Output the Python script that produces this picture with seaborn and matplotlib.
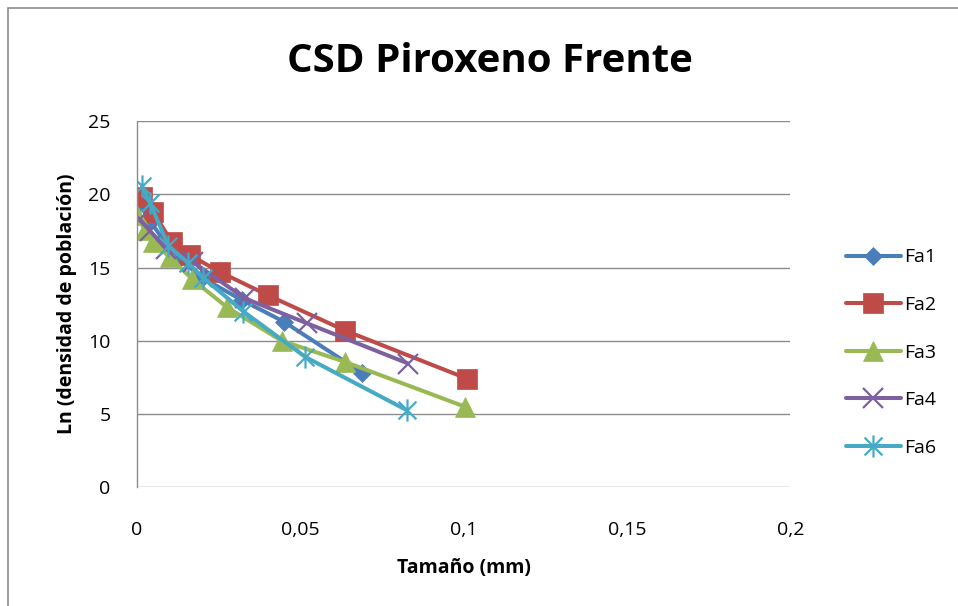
import numpy as np
import pandas as pd
import matplotlib
matplotlib.use("Agg")
import matplotlib.pyplot as plt
from matplotlib.path import Path
from matplotlib.patches import Rectangle
import seaborn as sns

series_names = ["Fa1", "Fa2", "Fa3", "Fa4", "Fa6"]
fa1_x = [0.0008, 0.004, 0.008, 0.013, 0.020, 0.032, 0.045, 0.069]
fa1_y = [19.5, 18.2, 16.9, 15.6, 14.3, 12.8, 11.3, 7.8]
fa2_x = [0.0015, 0.005, 0.0106, 0.0162, 0.0254, 0.0402, 0.0637, 0.101]
fa2_y = [19.8, 18.8, 16.75, 15.85, 14.7, 13.1, 10.7, 7.42]
fa3_x = [0.0, 0.0024, 0.005, 0.0101, 0.0167, 0.0275, 0.0443, 0.0637, 0.1005]
fa3_y = [18.6, 17.55, 16.75, 15.7, 14.25, 12.3, 10.0, 8.56, 5.49]
fa4_x = [0.0008, 0.004, 0.009, 0.017, 0.033, 0.052, 0.083]
fa4_y = [18.3, 17.5, 16.3, 15.4, 12.9, 11.2, 8.45]
fa6_x = [0.0015, 0.004, 0.0096, 0.0157, 0.0203, 0.0326, 0.0515, 0.0826]
fa6_y = [20.6, 19.4, 16.5, 15.3, 14.3, 12.0, 8.9, 5.26]

x_ticks = [0, 0.05, 0.1, 0.15, 0.2]
x_tick_labels = ["0", "0,05", "0,1", "0,15", "0,2"]
y_ticks = [0, 5, 10, 15, 20, 25]

frames = []
for name, xs, ys in zip(series_names,
                        [fa1_x, fa2_x, fa3_x, fa4_x, fa6_x],
                        [fa1_y, fa2_y, fa3_y, fa4_y, fa6_y]):
    frames.append(pd.DataFrame({"x": xs, "y": ys, "serie": name,
                                "order": range(len(xs))}))
df = pd.concat(frames, ignore_index=True)

sns.set_theme(style="white")
plt.rcParams["font.family"] = ["Open Sans", "DejaVu Sans"]
plt.rcParams["text.color"] = "black"
plt.rcParams["axes.labelcolor"] = "black"

colors = {"Fa1": "#4A7EBB", "Fa2": "#BE4B48", "Fa3": "#98B954",
          "Fa4": "#7D60A0", "Fa6": "#46AAC5"}
star = Path([(0, -1), (0, 1), (-0.8, -0.8), (0.8, 0.8), (-0.8, 0.8), (0.8, -0.8)],
            [Path.MOVETO, Path.LINETO, Path.MOVETO, Path.LINETO, Path.MOVETO, Path.LINETO])
markers = {"Fa1": "D", "Fa2": "s", "Fa3": "^", "Fa4": "x", "Fa6": star}
msizes = {"Fa1": 9, "Fa2": 14, "Fa3": 15, "Fa4": 14, "Fa6": 16}

fig = plt.figure(figsize=(9.58, 6.06), dpi=100)
ax = fig.add_axes([0.143, 0.196, 0.682, 0.604])

for name in series_names:
    sub = df[df["serie"] == name]
    m = markers[name]
    sns.lineplot(data=sub, x="x", y="y", sort=False, ax=ax, color=colors[name],
                 linewidth=2.9, marker=m, markersize=msizes[name],
                 markeredgecolor=colors[name],
                 markeredgewidth=1.6 if name in ("Fa4", "Fa6") else 0.5,
                 label=name, estimator=None)

ax.set_xlim(0, 0.2)
ax.set_ylim(0, 25)
ax.set_xticks(x_ticks)
ax.set_xticklabels(x_tick_labels)
ax.set_yticks(y_ticks)
ax.tick_params(axis="both", labelsize=14, colors="#000000", length=0)
ax.tick_params(axis="x", pad=24)
ax.tick_params(axis="y", pad=19)
ax.grid(axis="y", color="#8C8C8C", linewidth=1)
ax.grid(axis="x", visible=False)
for s in ["top", "right", "bottom"]:
    ax.spines[s].set_visible(False)
ax.spines["left"].set_color("#8C8C8C")
ax.spines["left"].set_linewidth(1)
ax.set_axisbelow(True)

ax.set_xlabel("Tamaño (mm)", fontsize=14, fontweight="bold", labelpad=14)
ax.set_ylabel("Ln (densidad de población)", fontsize=14, fontweight="bold", labelpad=8)
fig.text(0.511, 0.898, "CSD Piroxeno Frente", fontsize=29, fontweight="bold",
         ha="center", va="center", color="black")

leg = ax.legend(loc="center left", bbox_to_anchor=(1.058, 0.368), frameon=False,
                fontsize=14, handlelength=2.85, labelspacing=1.52, handletextpad=0.15)

fig.patches.append(Rectangle((0.008, -0.05), 1.2, 1.036, transform=fig.transFigure,
                             fill=False, edgecolor="#8C8C8C", linewidth=1.2))

fig.savefig("out.png", dpi=100)
